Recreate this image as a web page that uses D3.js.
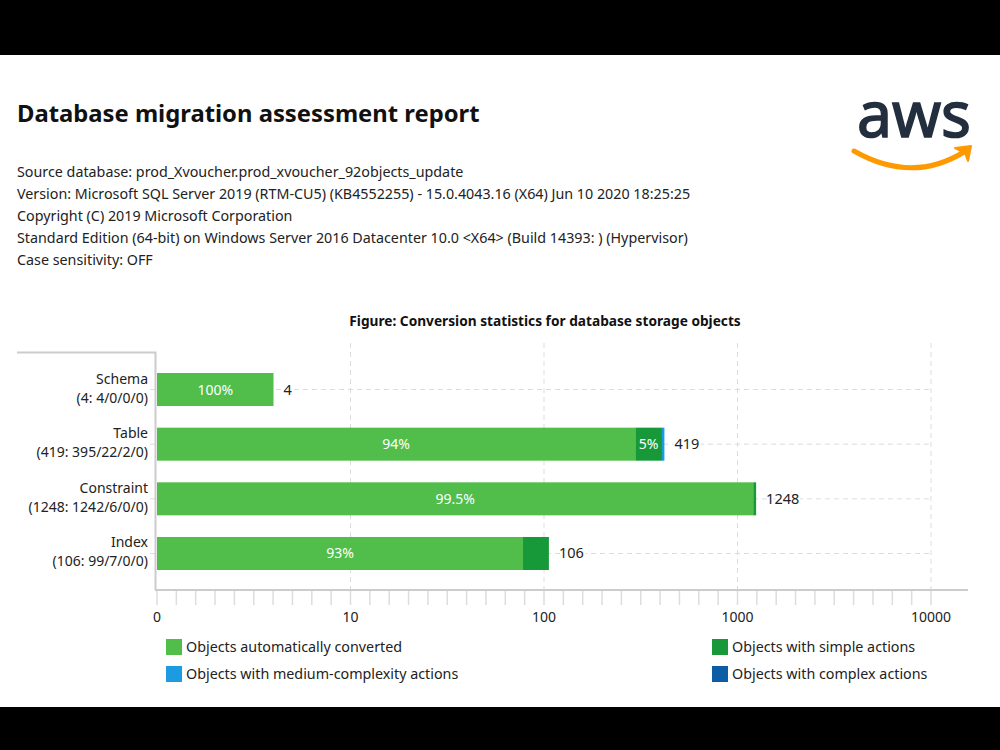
<!DOCTYPE html>
<html>
<head>
<meta charset="utf-8">
<script src="https://cdn.jsdelivr.net/npm/d3@7"></script>
<style>
  body { margin: 0; background: #000; }
  svg { display: block; font-family: "Noto Sans", sans-serif; }
</style>
</head>
<body>
<div id="chart"></div>
<script>
// report header text
const reportTitle = "Database migration assessment report"
const infoLines = [
  "Source database: prod_Xvoucher.prod_xvoucher_92objects_update",
  "Version: Microsoft SQL Server 2019 (RTM-CU5) (KB4552255) - 15.0.4043.16 (X64) Jun 10 2020 18:25:25",
  "Copyright (C) 2019 Microsoft Corporation",
  "Standard Edition (64-bit) on Windows Server 2016 Datacenter 10.0 <X64> (Build 14393: ) (Hypervisor)",
  "Case sensitivity: OFF"
]
const chartTitle = "Figure: Conversion statistics for database storage objects"

// chart data
const categories = ["Schema", "Table", "Constraint", "Index"]
const totals = [4, 419, 1248, 106]
const converted = [4, 395, 1242, 99]
const simple = [0, 22, 6, 7]
const medium = [0, 2, 0, 0]
const complex = [0, 0, 0, 0]
const convertedLabels = ["100%", "94%", "99.5%", "93%"]
const simpleLabels = ["", "5%", "", ""]
const xTickValues = [1, 10, 100, 1000, 10000]
const xTickLabels = ["0", "10", "100", "1000", "10000"]
const seriesNames = ["Objects automatically converted", "Objects with simple actions",
  "Objects with medium-complexity actions", "Objects with complex actions"]
const seriesColors = ["#51be4b", "#17993a", "#1c9ce0", "#0e5ca6"]

const width = 1000
const height = 750

const svg = d3.select('#chart').append('svg')
  .attr('width', width)
  .attr('height', height)

// white page between the black bands
svg.append('rect').attr('x', 0).attr('y', 55).attr('width', width).attr('height', 652).attr('fill', '#fff')

svg.append('text')
  .attr('x', 17).attr('y', 122)
  .style('font-size', '23.8px').style('font-weight', 'bold').attr('fill', '#111')
  .text(reportTitle)

svg.selectAll('.info').data(infoLines).join('text')
  .attr('class', 'info')
  .attr('x', 17)
  .attr('y', (d, i) => 177 + i * 22)
  .style('font-size', '14.3px').attr('fill', '#222')
  .text(d => d)

// aws logo
const logo = svg.append('g')
logo.append('text')
  .attr('x', 857).attr('y', 137)
  .attr('textLength', 114).attr('lengthAdjust', 'spacingAndGlyphs')
  .style('font-size', '64px').attr('fill', '#232f3e')
  .attr('stroke', '#232f3e').attr('stroke-width', 1.6)
  .text('aws')
logo.append('path')
  .attr('d', 'M854,151 Q912,184 964,152')
  .attr('fill', 'none').attr('stroke', '#f90').attr('stroke-width', 5).attr('stroke-linecap', 'round')
logo.append('path')
  .attr('d', 'M955,148 L971,146 L968,161 L965,153 Z')
  .attr('fill', '#f90').attr('stroke', '#f90').attr('stroke-width', 2).attr('stroke-linejoin', 'round')

// scales
const x = d3.scaleLog().domain([1, 10000]).range([157, 931])
const y = d3.scaleBand().domain(categories).range([373, 570]).paddingInner(0.396).paddingOuter(0)
const axisY = 590
const axisEnd = 968

svg.append('text')
  .attr('x', 545).attr('y', 326)
  .attr('text-anchor', 'middle')
  .style('font-size', '13.7px').style('font-weight', 'bold').attr('fill', '#111')
  .text(chartTitle)

// vertical dashed grid
svg.selectAll('.vgrid').data(xTickValues.slice(1)).join('line')
  .attr('class', 'vgrid')
  .attr('x1', d => x(d)).attr('x2', d => x(d))
  .attr('y1', 343).attr('y2', axisY)
  .attr('stroke', '#ddd').attr('stroke-dasharray', '5,4')

// horizontal dashed grid through bar centers
svg.selectAll('.hgrid').data(categories).join('line')
  .attr('class', 'hgrid')
  .attr('x1', 150).attr('x2', x(10000))
  .attr('y1', d => y(d) + y.bandwidth() / 2).attr('y2', d => y(d) + y.bandwidth() / 2)
  .attr('stroke', '#ddd').attr('stroke-dasharray', '5,4')

// frame lines
svg.append('path')
  .attr('d', `M17,352.5 H155.5 V${axisY}`)
  .attr('fill', 'none').attr('stroke', '#ccc').attr('stroke-width', 2)
svg.append('line')
  .attr('x1', 155).attr('x2', axisEnd).attr('y1', axisY).attr('y2', axisY)
  .attr('stroke', '#ccc').attr('stroke-width', 2)

// minor ticks: ten even steps per decade
const minorTicks = d3.range(0, 41).map(i => Math.pow(10, i / 10))
svg.selectAll('.mtick').data(minorTicks).join('line')
  .attr('class', 'mtick')
  .attr('x1', d => x(d)).attr('x2', d => x(d))
  .attr('y1', axisY + 1).attr('y2', axisY + 15)
  .attr('stroke', '#ddd').attr('stroke-width', 1.5)

svg.selectAll('.xlabel').data(xTickValues).join('text')
  .attr('class', 'xlabel')
  .attr('x', d => x(d)).attr('y', 622)
  .attr('text-anchor', 'middle')
  .style('font-size', '14px').attr('fill', '#222')
  .text((d, i) => xTickLabels[i])

// category labels
const catLabels = svg.selectAll('.cat').data(categories).join('text')
  .attr('class', 'cat')
  .attr('text-anchor', 'end')
  .style('font-size', '14px').attr('fill', '#222')
catLabels.append('tspan')
  .attr('x', 148).attr('y', d => y(d) + y.bandwidth() / 2 - 6)
  .text(d => d)
catLabels.append('tspan')
  .attr('x', 148).attr('y', d => y(d) + y.bandwidth() / 2 + 13)
  .text((d, i) => `(${totals[i]}: ${converted[i]}/${simple[i]}/${medium[i]}/${complex[i]})`)

// stacked segments, each a share of the log-length bar
const series = [converted, simple, medium, complex]
const segLabels = [convertedLabels, simpleLabels]
categories.forEach((cat, i) => {
  const share = d3.scaleLinear().domain([0, totals[i]]).range([x(1), x(totals[i])])
  let cum = 0
  series.forEach((s, k) => {
    const v = s[i]
    if (v > 0) {
      svg.append('rect')
        .attr('x', share(cum)).attr('width', share(cum + v) - share(cum))
        .attr('y', y(cat)).attr('height', y.bandwidth())
        .attr('fill', seriesColors[k])
      const lab = segLabels[k] ? segLabels[k][i] : ''
      if (lab) {
        svg.append('text')
          .attr('x', (share(cum) + share(cum + v)) / 2)
          .attr('y', y(cat) + y.bandwidth() / 2 + 5)
          .attr('text-anchor', 'middle')
          .style('font-size', '14px').attr('fill', '#fff')
          .text(lab)
      }
    }
    cum += v
  })
  svg.append('text')
    .attr('x', x(totals[i]) + 10)
    .attr('y', y(cat) + y.bandwidth() / 2 + 5)
    .style('font-size', '14.5px').attr('fill', '#222')
    .attr('stroke', '#fff').attr('stroke-width', 4).attr('paint-order', 'stroke')
    .text(totals[i])
})

// legend
const legendPos = [[166, 639], [712, 639], [166, 666], [712, 666]]
const legend = svg.selectAll('.legend').data(seriesNames).join('g')
  .attr('class', 'legend')
  .attr('transform', (d, i) => `translate(${legendPos[i][0]},${legendPos[i][1]})`)
legend.append('rect')
  .attr('width', 16).attr('height', 16)
  .attr('fill', (d, i) => seriesColors[i])
legend.append('text')
  .attr('x', 20).attr('y', 13)
  .style('font-size', '14.3px').attr('fill', '#222')
  .text(d => d)
</script>
</body>
</html>
